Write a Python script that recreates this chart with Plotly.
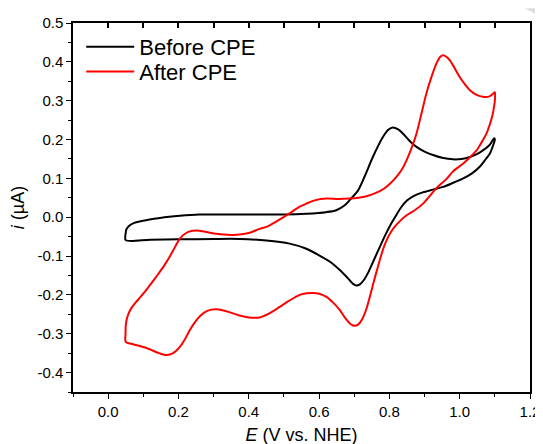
import plotly.graph_objects as go

# Before CPE (black) loop
E_before = [0.050, 0.052, 0.060, 0.071, 0.095, 0.118, 0.160, 0.204, 0.260, 0.350, 0.430, 0.500, 0.564, 0.620, 0.649,
            0.672, 0.687, 0.711, 0.732, 0.753, 0.782, 0.797, 0.810, 0.825, 0.839, 0.857, 0.877, 0.900, 0.924,
            0.950, 0.981, 1.005, 1.029, 1.050, 1.066, 1.085, 1.098,
            1.100, 1.093, 1.086, 1.072, 1.057, 1.035, 1.010, 0.980, 0.953, 0.924, 0.895, 0.870, 0.850, 0.833,
            0.818, 0.803, 0.790, 0.777, 0.765, 0.752, 0.740, 0.728, 0.716, 0.706, 0.696, 0.683, 0.659, 0.630,
            0.600, 0.560, 0.516, 0.450, 0.374, 0.300, 0.200, 0.120, 0.050, 0.050]
I_before = [-0.040, -0.031, -0.022, -0.016, -0.010, -0.006, 0.000, 0.004, 0.007, 0.007, 0.007, 0.007, 0.009, 0.013, 0.018,
            0.030, 0.044, 0.069, 0.110, 0.155, 0.207, 0.225, 0.231, 0.226, 0.215, 0.197, 0.181, 0.169, 0.160,
            0.153, 0.149, 0.150, 0.155, 0.163, 0.172, 0.186, 0.203,
            0.200, 0.180, 0.164, 0.147, 0.130, 0.113, 0.100, 0.088, 0.078, 0.071, 0.064, 0.055, 0.043, 0.025,
            0.003, -0.020, -0.043, -0.068, -0.092, -0.118, -0.142, -0.161, -0.173, -0.176, -0.171, -0.158, -0.136, -0.114,
            -0.098, -0.080, -0.068, -0.060, -0.056, -0.056, -0.057, -0.058, -0.059, -0.040]

# After CPE (red) loop
E_after = [0.050, 0.0495, 0.050, 0.053, 0.058, 0.066, 0.078, 0.092, 0.112, 0.137, 0.157, 0.175, 0.190, 0.204, 0.223, 0.240,
           0.255, 0.289, 0.320, 0.355, 0.380, 0.403, 0.431, 0.450, 0.480, 0.516, 0.545, 0.564, 0.590, 0.621,
           0.655, 0.687, 0.712, 0.735, 0.760, 0.782, 0.800, 0.820, 0.835, 0.849, 0.863, 0.877, 0.890, 0.905,
           0.920, 0.934, 0.945, 0.953, 0.962, 0.972, 0.985, 1.000, 1.015, 1.029, 1.048, 1.066, 1.085, 1.095, 1.100,
           1.100, 1.097, 1.093, 1.086, 1.076, 1.062, 1.048, 1.030, 1.010, 0.981, 0.962, 0.934, 0.915, 0.896,
           0.872, 0.849, 0.830, 0.812, 0.797, 0.785, 0.775, 0.765, 0.755, 0.745, 0.735, 0.724, 0.713, 0.705,
           0.695, 0.687, 0.673, 0.659, 0.640, 0.621, 0.600, 0.583, 0.565, 0.545, 0.515, 0.488, 0.460, 0.431,
           0.400, 0.374, 0.340, 0.308, 0.282, 0.263, 0.247, 0.232, 0.218, 0.204, 0.185, 0.166, 0.145, 0.118,
           0.095, 0.071, 0.050]
I_after = [-0.321, -0.300, -0.280, -0.262, -0.248, -0.234, -0.220, -0.205, -0.183, -0.153, -0.128, -0.102, -0.077, -0.055, -0.040, -0.035,
           -0.034, -0.040, -0.044, -0.046, -0.044, -0.040, -0.030, -0.025, -0.010, 0.010, 0.027, 0.035, 0.044, 0.048,
           0.047, 0.048, 0.050, 0.054, 0.062, 0.072, 0.085, 0.104, 0.122, 0.147, 0.178, 0.215, 0.262, 0.318,
           0.362, 0.396, 0.413, 0.417, 0.413, 0.404, 0.385, 0.361, 0.342, 0.327, 0.315, 0.310, 0.311, 0.318, 0.322,
           0.300, 0.280, 0.262, 0.240, 0.215, 0.192, 0.172, 0.155, 0.138, 0.118, 0.098, 0.075, 0.055, 0.035,
           0.018, 0.005, -0.010, -0.028, -0.050, -0.075, -0.103, -0.135, -0.168, -0.203, -0.235, -0.260, -0.275, -0.279,
           -0.278, -0.273, -0.258, -0.239, -0.220, -0.205, -0.197, -0.195, -0.196, -0.200, -0.215, -0.231, -0.247, -0.258,
           -0.258, -0.253, -0.243, -0.237, -0.241, -0.253, -0.270, -0.291, -0.315, -0.334, -0.350, -0.355, -0.350, -0.340,
           -0.333, -0.327, -0.321]

x_tickvals = [0.0, 0.2, 0.4, 0.6, 0.8, 1.0, 1.2]
x_ticktext = ["0.0", "0.2", "0.4", "0.6", "0.8", "1.0", "1.2"]
x_top_tickvals = [0.0, 0.1, 0.2, 0.3, 0.4, 0.5, 0.6, 0.7, 0.8, 0.9, 1.0, 1.1]
y_tickvals = [-0.4, -0.3, -0.2, -0.1, 0.0, 0.1, 0.2, 0.3, 0.4, 0.5]
y_ticktext = ["-0.4", "-0.3", "-0.2", "-0.1", "0.0", "0.1", "0.2", "0.3", "0.4", "0.5"]

FONT = "Liberation Sans, Arial, sans-serif"

fig = go.Figure()
fig.add_trace(go.Scatter(x=E_before, y=I_before, mode="lines", name="Before CPE", legend="legend",
                         line=dict(color="black", width=2, shape="spline", smoothing=0.8)))
fig.add_trace(go.Scatter(x=E_after, y=I_after, mode="lines", name="After CPE", legend="legend2",
                         line=dict(color="#ff0000", width=2, shape="spline", smoothing=0.8)))
# same red loop on the top axis, fully transparent, so that the top axis is drawn
fig.add_trace(go.Scatter(x=E_after, y=I_after, xaxis="x2", yaxis="y", mode="lines",
                         line=dict(color="rgba(0,0,0,0)", width=0.1), opacity=0,
                         showlegend=False, hoverinfo="skip"))

leg_common = dict(xanchor="left", yanchor="top", bgcolor="rgba(0,0,0,0)",
                  font=dict(size=22, family=FONT), itemwidth=48)

fig.update_layout(
    width=543, height=444,
    margin=dict(l=65, r=21, t=15, b=60, autoexpand=False),
    paper_bgcolor="white", plot_bgcolor="white",
    font=dict(family=FONT, color="black", size=15),
    showlegend=True,
    legend=dict(x=0.018, y=0.992, **leg_common),
    legend2=dict(x=0.018, y=0.925, **leg_common),
    xaxis=dict(range=[-0.1, 1.2], autorange=False, automargin=False, showgrid=False, zeroline=False,
               showline=True, linecolor="black", linewidth=1.5,
               mirror=False, ticks="outside", ticklen=5, tickwidth=1.3, tickcolor="black",
               tickvals=x_tickvals, ticktext=x_ticktext, tickfont=dict(size=15),
               minor=dict(ticks="outside", ticklen=3, tickwidth=1.3, tickcolor="black", dtick=0.1, tick0=0),
               title=dict(text="<i>E</i> (V vs. NHE)", font=dict(size=18), standoff=10)),
    xaxis2=dict(range=[-0.1, 1.2], autorange=False, automargin=False, overlaying="x", side="top",
                anchor="y", showgrid=False, zeroline=False,
                showline=True, linecolor="black", linewidth=1.5,
                ticks="inside", ticklen=5, tickwidth=1.5, tickcolor="black",
                tickvals=x_top_tickvals, showticklabels=False),
    yaxis=dict(range=[-0.45, 0.5], autorange=False, automargin=False, showgrid=False, zeroline=False,
               showline=True, linecolor="black", linewidth=1.5,
               mirror=True, ticks="outside", ticklen=5, tickwidth=1.3, tickcolor="black",
               tickvals=y_tickvals, ticktext=y_ticktext, tickfont=dict(size=15),
               minor=dict(ticks="outside", ticklen=3, tickwidth=1.3, tickcolor="black", dtick=0.05, tick0=0),
               title=dict(text="<i>i</i> (µA)", font=dict(size=18), standoff=10)),
    shapes=[dict(type="path", xref="paper", yref="paper",
                 path="M 0.989 1.0398 L 1.0285 1.0398 L 1.0285 1.0127 Z",
                 fillcolor="#dcdcdc", line=dict(width=0), layer="above")],
)

fig.write_html("out.html")
